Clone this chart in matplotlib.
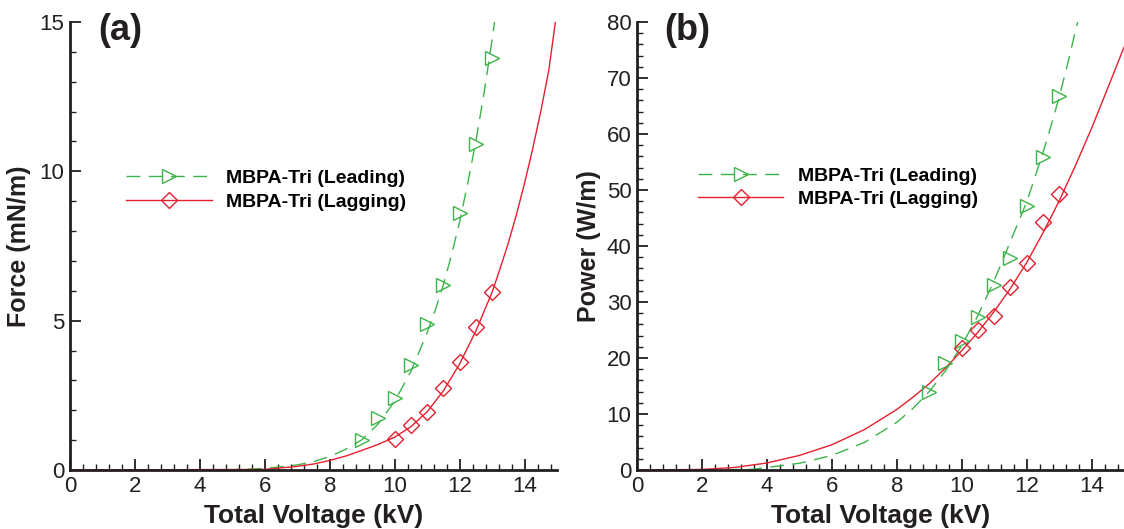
import matplotlib
matplotlib.use("Agg")
import matplotlib.pyplot as plt
from matplotlib.ticker import MultipleLocator

plt.rcParams['font.family'] = ['Liberation Sans', 'DejaVu Sans']

# measured points (markers)
volt_lead = [9, 9.5, 10, 10.5, 11, 11.5, 12, 12.5, 13]
volt_lag = [10, 10.5, 11, 11.5, 12, 12.5, 13]
force_lead = [1.0, 1.75, 2.4, 3.5, 4.9, 6.2, 8.6, 10.9, 13.8]
force_lag = [1.05, 1.5, 1.95, 2.75, 3.6, 4.8, 5.95]
power_lead = [14.0, 19.1, 23.0, 27.3, 33.0, 37.8, 47.1, 55.9, 66.8]
power_lag = [21.8, 25.0, 27.5, 32.7, 36.9, 44.2, 49.3]

# fitted curves
fit_v_force_lead = [0, 5, 6, 7, 7.5, 8, 8.5, 9, 9.5, 10, 10.5, 11, 11.25, 11.5, 11.75,
                    12, 12.25, 12.5, 12.75, 13.0, 13.1]
fit_force_lead = [0, 0.01, 0.05, 0.17, 0.28, 0.45, 0.7, 1.02, 1.55, 2.3, 3.3, 4.6, 5.35,
                  6.2, 7.2, 8.3, 9.6, 11.0, 12.6, 14.4, 15.2]
fit_v_force_lag = [0, 6, 7, 7.5, 8, 8.5, 9, 9.5, 10, 10.5, 11, 11.5, 12, 12.5, 13, 13.25,
                   13.5, 13.75, 14, 14.25, 14.5, 14.75, 14.95]
fit_force_lag = [0, 0.02, 0.12, 0.2, 0.32, 0.47, 0.66, 0.86, 1.1, 1.45, 1.95, 2.65, 3.55,
                 4.65, 5.95, 6.75, 7.6, 8.55, 9.6, 10.75, 12.0, 13.4, 15.0]
fit_v_power_lead = [0, 3.5, 4, 5, 6, 7, 8, 8.5, 9, 9.5, 10, 10.5, 11, 11.5, 12, 12.5,
                    12.75, 13, 13.25, 13.5, 13.7]
fit_power_lead = [0, 0.1, 0.45, 1.2, 2.6, 4.9, 8.5, 11.0, 14.0, 17.7, 22.2, 27.6, 33.8,
                  40.8, 47.8, 56.6, 61.4, 66.5, 72.2, 78.3, 83.0]
fit_v_power_lag = [0, 2, 3, 4, 5, 6, 7, 8, 8.5, 9, 9.5, 10, 10.5, 11, 11.5, 12, 12.5,
                   13, 13.5, 14, 14.5, 15]
fit_power_lag = [0, 0.1, 0.45, 1.25, 2.6, 4.5, 7.2, 10.8, 13.0, 15.4, 18.2, 21.3, 24.6,
                 28.3, 32.4, 37.0, 42.3, 48.0, 54.3, 61.0, 68.2, 75.5]

labels = ['MBPA-Tri (Leading)', 'MBPA-Tri (Lagging)']
green = '#3db44a'
red = '#e5202e'
ink = '#231f20'

fig = plt.figure(figsize=(11.24, 5.29), dpi=100)
ax1 = fig.add_axes([70 / 1124, 59 / 529, 487 / 1124, 448 / 529])
ax2 = fig.add_axes([637 / 1124, 59 / 529, 487 / 1124, 448 / 529])


def draw(ax, v_lead, y_lead, v_lag, y_lag, fv_lead, fy_lead, fv_lag, fy_lag):
    ax.plot(fv_lead, fy_lead, color=green, lw=1.0, dashes=[10, 6])
    ax.plot(fv_lag, fy_lag, color=red, lw=1.0)
    ax.plot(v_lead, y_lead, ls='none', marker='>', ms=10, mfc='none', mec=green, mew=1.0)
    ax.plot(v_lag, y_lag, ls='none', marker='D', ms=8.5, mfc='none', mec=red, mew=1.0)
    # legend handles
    h1, = ax.plot([], [], color=green, lw=1.0, dashes=[10, 6], marker='>', ms=10,
                  mfc='none', mec=green, mew=1.0)
    h2, = ax.plot([], [], color=red, lw=1.0, marker='D', ms=8.5, mfc='none', mec=red, mew=1.0)
    return h1, h2


h = draw(ax1, volt_lead, force_lead, volt_lag, force_lag,
         fit_v_force_lead, fit_force_lead, fit_v_force_lag, fit_force_lag)
ax1.legend(h, labels, loc='center left', bbox_to_anchor=(0.115, 0.625), frameon=False,
           handlelength=4.4, handletextpad=0.75, borderpad=0, borderaxespad=0,
           labelspacing=0.3, prop={'weight': 'bold', 'size': 14})

h = draw(ax2, volt_lead, power_lead, volt_lag, power_lag,
         fit_v_power_lead, fit_power_lead, fit_v_power_lag, fit_power_lag)
ax2.legend(h, labels, loc='center left', bbox_to_anchor=(0.125, 0.630), frameon=False,
           handlelength=4.4, handletextpad=0.75, borderpad=0, borderaxespad=0,
           labelspacing=0.3, prop={'weight': 'bold', 'size': 14})

ax1.set_ylim(0, 15)
ax1.yaxis.set_major_locator(MultipleLocator(5))
ax1.yaxis.set_minor_locator(MultipleLocator(1))
ax1.set_ylabel('Force (mN/m)', fontsize=18, fontweight='bold', labelpad=6)
ax1.text(0.103, 0.982, '(a)', transform=ax1.transAxes, ha='center', va='center',
         fontsize=26, fontweight='bold', color=ink)

ax2.set_ylim(0, 80)
ax2.yaxis.set_major_locator(MultipleLocator(10))
ax2.yaxis.set_minor_locator(MultipleLocator(2))
ax2.set_ylabel('Power (W/m)', fontsize=18, fontweight='bold', labelpad=4)
ax2.text(0.103, 0.982, '(b)', transform=ax2.transAxes, ha='center', va='center',
         fontsize=26, fontweight='bold', color=ink)

for ax in (ax1, ax2):
    ax.set_xlim(0, 15)
    ax.xaxis.set_major_locator(MultipleLocator(2))
    ax.xaxis.set_minor_locator(MultipleLocator(0.4))
    ax.set_xlabel('Total Voltage (kV)', fontsize=19, fontweight='bold', labelpad=5)
    ax.spines['top'].set_visible(False)
    ax.spines['right'].set_visible(False)
    for s in ('left', 'bottom'):
        ax.spines[s].set_linewidth(2.0)
        ax.spines[s].set_color(ink)
    ax.tick_params(which='major', direction='in', length=8, width=1.3, color=ink,
                   labelsize=16, labelcolor=ink, pad=4)
    ax.tick_params(which='minor', direction='in', length=4.5, width=1.0, color=ink)
    ax.xaxis.label.set_color(ink)
    ax.yaxis.label.set_color(ink)

fig.savefig('out.png', dpi=100)
